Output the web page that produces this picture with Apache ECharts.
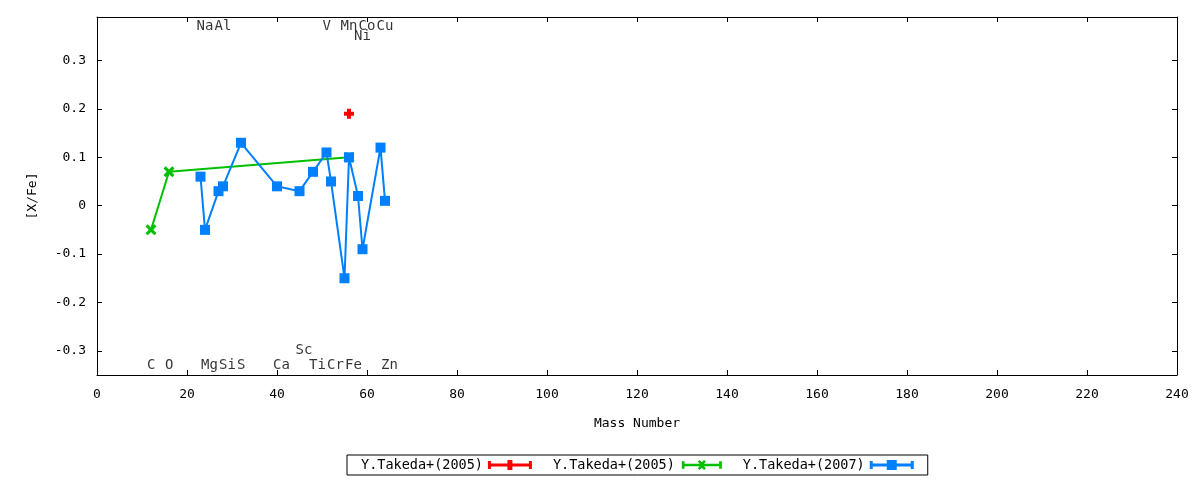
<!DOCTYPE html>
<html>
<head>
<meta charset="utf-8">
<script src="https://cdn.jsdelivr.net/npm/echarts@6/dist/echarts.min.js"></script>
<style>html,body{margin:0;padding:0;background:#fff}#c{width:1200px;height:480px}</style>
</head>
<body>
<div id="c"></div>
<script>
// ---- data ----
const takeda2007Mass = [23, 24, 27, 28, 32, 40, 45, 48, 51, 52, 55, 56, 58, 59, 63, 64];
const takeda2007Val  = [0.06, -0.05, 0.03, 0.04, 0.13, 0.04, 0.03, 0.07, 0.11, 0.05, -0.15, 0.10, 0.02, -0.09, 0.12, 0.01];
const takeda2005aMass = [56];
const takeda2005aVal  = [0.19];
const takeda2005bMass = [12, 16, 56];
const takeda2005bVal  = [-0.05, 0.07, 0.10];
const elemNames = ['Na','Al','V','Mn','Co','Cu','Ni','C','O','Mg','Si','S','Ca','Ti','Cr','Fe','Zn','Sc'];
const elemMass  = [23, 27, 51, 55, 59, 63, 58, 12, 16, 24, 28, 32, 40, 48, 52, 56, 64, 45];
const elemY     = [0.37,0.37,0.37,0.37,0.37,0.37,0.35,-0.33,-0.33,-0.33,-0.33,-0.33,-0.33,-0.33,-0.33,-0.33,-0.33,-0.30];
const yTicks = [-0.3, -0.2, -0.1, 0, 0.1, 0.2, 0.3];
const seriesNames = ['Y.Takeda+(2005)#a', 'Y.Takeda+(2005)#b', 'Y.Takeda+(2007)#c'];

const FONT = 'DejaVu Sans Mono';
const zip = (a, b) => a.map((v, i) => [v, b[i]]);

const plusPath = 'path://M3,0H7V3H10V7H7V10H3V7H0V3H3Z';
const xPath = 'path://M0,2L2,0L5,3L8,0L10,2L7,5L10,8L8,10L5,7L2,10L0,8L3,5Z';
const barBase = 'M0,1H3V3.5H41V1H44V9H41V6.5H3V9H0Z ';
const iconRed = 'path://' + barBase + 'M19.5,0H24.5V10H19.5Z M17,3.5H27V6.5H17Z';
const iconGreen = 'path://' + barBase + 'M17.5,1.5L19.5,-0.5L22,2L24.5,-0.5L26.5,1.5L24,4L24,6L26.5,8.5L24.5,10.5L22,8L19.5,10.5L17.5,8.5L20,6L20,4Z';
const iconBlue = 'path://' + barBase + 'M17,0H27V10H17Z';

const chart = echarts.init(document.getElementById('c'));
const lineStyleAxis = {show: true, onZero: false, lineStyle: {color: '#000', width: 1}};
chart.setOption({
  animation: false,
  backgroundColor: '#fff',
  textStyle: {fontFamily: FONT},
  grid: {left: 97, right: 23, top: 17, bottom: 105},
  legend: {
    left: 347, top: 455,
    align: 'right',
    orient: 'horizontal',
    itemWidth: 44, itemHeight: 10, itemGap: 21,
    padding: [3, 14, 3, 14],
    borderColor: '#000', borderWidth: 1, borderRadius: 0,
    textStyle: {fontFamily: FONT, fontSize: 13.5, color: '#000'},
    formatter: n => n.split('#')[0],
    data: [
      {name: seriesNames[0], icon: iconRed},
      {name: seriesNames[1], icon: iconGreen},
      {name: seriesNames[2], icon: iconBlue}
    ]
  },
  xAxis: [
    {
      type: 'value', min: 0, max: 240, interval: 20, position: 'bottom',
      axisLine: lineStyleAxis, splitLine: {show: false},
      name: 'Mass Number', nameLocation: 'middle', nameGap: 42,
      nameTextStyle: {fontFamily: FONT, fontSize: 13, color: '#000'},
      axisTick: {show: true, inside: true, length: 5, lineStyle: {color: '#000'}},
      axisLabel: {fontFamily: FONT, fontSize: 13, color: '#000', margin: 13}
    },
    {
      type: 'value', min: 0, max: 240, interval: 20, position: 'top',
      axisLine: lineStyleAxis, splitLine: {show: false},
      axisTick: {show: true, inside: true, length: 5, lineStyle: {color: '#000'}},
      axisLabel: {show: false}
    }
  ],
  yAxis: [
    {
      type: 'value', min: -0.35, max: 0.39, position: 'left',
      axisLine: lineStyleAxis, splitLine: {show: false},
      name: '[X/Fe]', nameLocation: 'middle', nameGap: 58, nameRotate: 90,
      nameTextStyle: {fontFamily: FONT, fontSize: 13, color: '#000'},
      axisTick: {show: true, inside: true, length: 5, customValues: yTicks, lineStyle: {color: '#000'}},
      axisLabel: {fontFamily: FONT, fontSize: 13, color: '#000', margin: 11, customValues: yTicks,
        formatter: v => (Math.round(v * 10) / 10).toString()}
    },
    {
      type: 'value', min: -0.35, max: 0.39, position: 'right',
      axisLine: lineStyleAxis, splitLine: {show: false},
      axisTick: {show: true, inside: true, length: 5, customValues: yTicks, lineStyle: {color: '#000'}},
      axisLabel: {show: false, customValues: yTicks}
    }
  ],
  series: [
    {
      name: seriesNames[0], type: 'line',
      data: zip(takeda2005aMass, takeda2005aVal),
      symbol: plusPath, symbolSize: 10, showAllSymbol: true,
      itemStyle: {color: '#ff0000'}, lineStyle: {color: '#ff0000', width: 2}
    },
    {
      name: seriesNames[1], type: 'line',
      data: zip(takeda2005bMass, takeda2005bVal),
      symbol: xPath, symbolSize: 11, showAllSymbol: true,
      itemStyle: {color: '#00c000'}, lineStyle: {color: '#00c000', width: 2}
    },
    {
      name: seriesNames[2], type: 'line',
      data: zip(takeda2007Mass, takeda2007Val),
      symbol: 'rect', symbolSize: 10, showAllSymbol: true,
      itemStyle: {color: '#0080ff'}, lineStyle: {color: '#0080ff', width: 2}
    },
    {
      name: 'labels', type: 'scatter', silent: true,
      symbolSize: 1, itemStyle: {color: 'rgba(0,0,0,0)'},
      data: elemMass.map((m, i) => ({value: [m, elemY[i]], name: elemNames[i]})),
      label: {
        show: true, position: [-3.5, 0.5], align: 'left', verticalAlign: 'middle',
        formatter: p => p.name,
        fontFamily: FONT, fontSize: 14, color: '#000'
      },
      labelLayout: {hideOverlap: false}
    }
  ]
});
</script>
</body>
</html>
